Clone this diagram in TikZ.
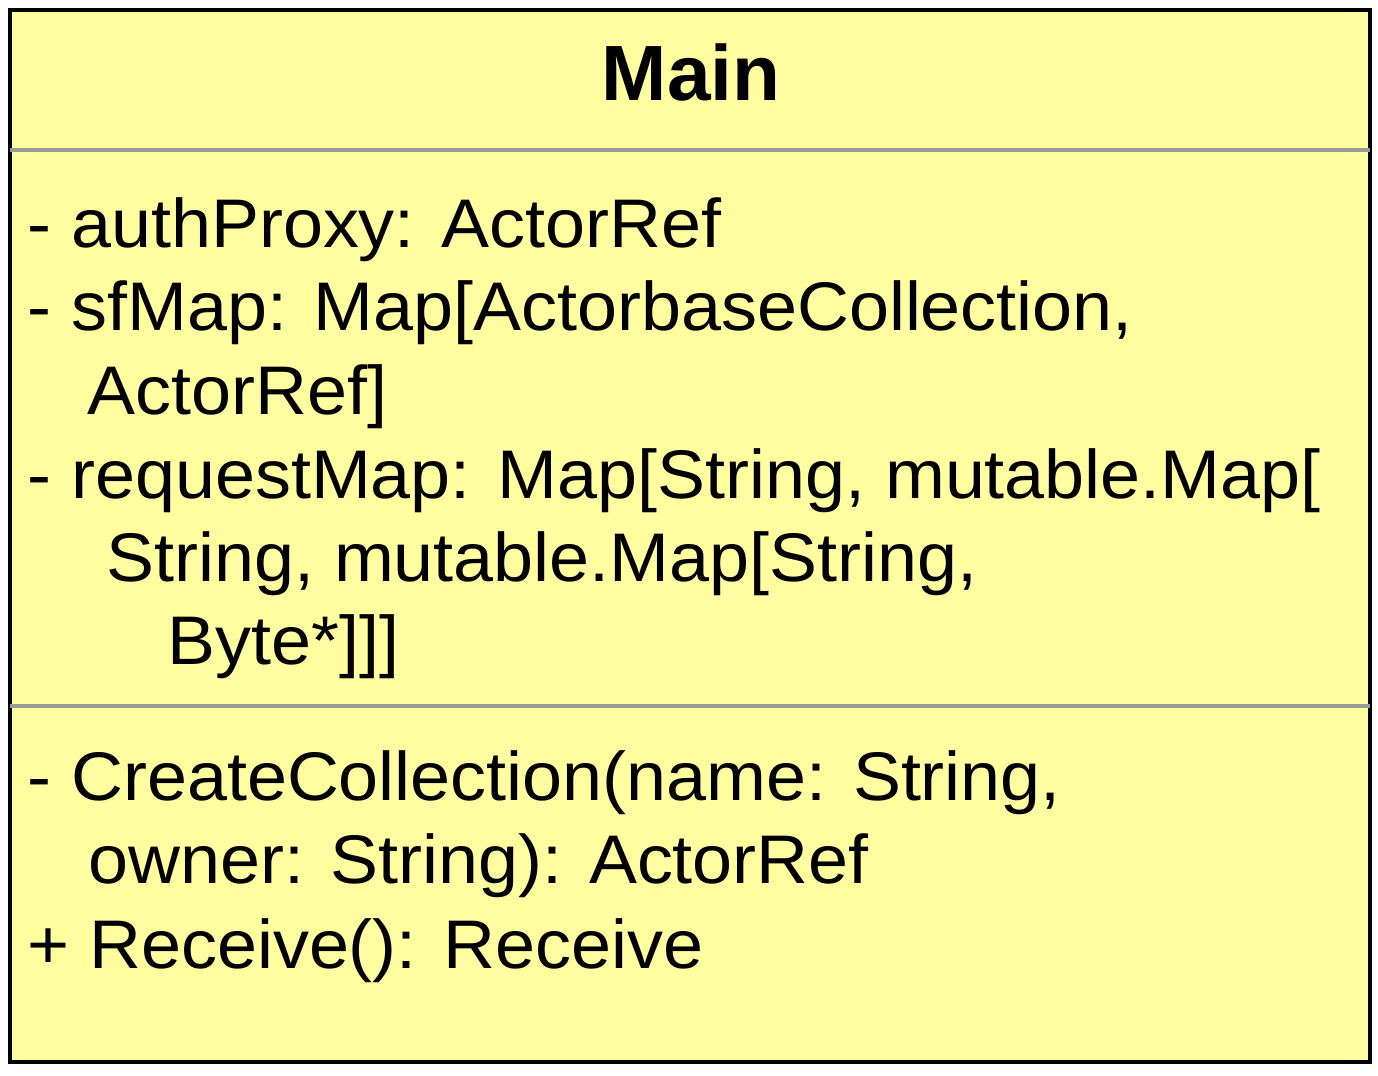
\documentclass[tikz,border=0pt]{standalone}
\usepackage{fontspec}
\setmainfont{Liberation Sans}
\newfontfamily\widesans[FakeStretch=1.045]{Liberation Sans}
\usepackage{tikz}
\definecolor{classfill}{HTML}{FFFDA0}
\definecolor{sepgray}{HTML}{9A9A9A}
\newcommand{\memberfont}{\widesans\fontsize{34.4}{40}\selectfont}
\newcommand{\titlefont}{\fontsize{39.2}{46}\selectfont\bfseries}
\tikzset{member/.style={anchor=base west, font=\memberfont}}
\begin{document}
\begin{tikzpicture}[x=0.5pt,y=-0.5pt]
\tikzstyle{every node}+=[inner sep=0pt]
\useasboundingbox (0,0) rectangle (1378,1076);
\draw [black, fill=classfill, line width=2pt] (10,10) rectangle (1370,1062);
\draw [sepgray, line width=2pt] (10,150) -- (1370,150);
\draw [sepgray, line width=2pt] (10,706) -- (1370,706);
\node [anchor=base, font=\titlefont] (title) at (691,100) {Main};
% attributes
\node [member] (attrA) at (27,247) {- authProxy: ActorRef};
\node [member] (attrB) at (27,330) {- sfMap: Map[ActorbaseCollection,};
\node [member] (attrBb) at (87,414) {ActorRef]};
\node [member] (attrC) at (27,498) {- requestMap: Map[String, mutable.Map[};
\node [member] (attrCb) at (106,581) {String, mutable.Map[String,};
\node [member] (attrCc) at (167,664) {Byte*]]]};
% operations
\node [member] (opA) at (27,800) {- CreateCollection(name: String,};
\node [member] (opAb) at (88,883) {owner: String): ActorRef};
\node [member] (opB) at (27,968) {+ Receive(): Receive};
\end{tikzpicture}
\end{document}
